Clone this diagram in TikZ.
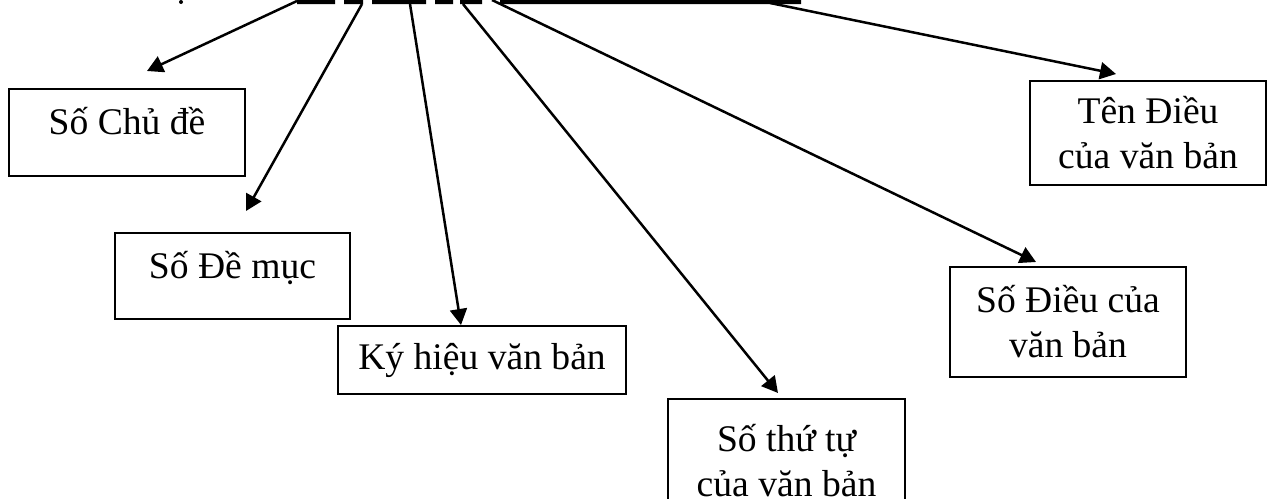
\documentclass[tikz,border=0pt]{standalone}
\usepackage{fontspec}
\setmainfont{Liberation Serif}
\usetikzlibrary{arrows.meta}
\tikzset{
	khung/.style={draw, line width=0.9pt, inner sep=0pt, align=center, font=\fontsize{18.8}{22.5}\selectfont},
	muiten/.style={-{Triangle[length=8pt,width=8.5pt]}, line width=1.25pt},
}

\begin{document}
\begin{tikzpicture}[x=0.5pt,y=-0.5pt]
		\useasboundingbox (0,0) rectangle (1273,498);
		% phan duoi cua dong tieu de bi cat
		\fill
		(297,0) rectangle (335,4)
		(344,0) rectangle (363,4)
		(372,0) rectangle (426,4)
		(435,0) rectangle (453,4)
		(460,0) rectangle (482,4)
		(500,0) rectangle (801,4)
		(181,2) circle [radius=2];
		\coordinate (g1) at (297,1);
		\coordinate (g2) at (362,4);
		\coordinate (g3) at (410,4);
		\coordinate (g4) at (463,4);
		\coordinate (g5) at (492,0);
		\coordinate (g6) at (770,3);
		\coordinate (d1) at (147,71);
		\coordinate (d2) at (246,211);
		\coordinate (d3) at (461,325);
		\coordinate (d4) at (778,393);
		\coordinate (d5) at (1036,262);
		\coordinate (d6) at (1116,74);
		% cac o
		\node [khung, minimum width=118pt, text height=22.5pt, text depth=21pt] (chude) at (127,132.5) {Số Chủ đề};
		\node [khung, minimum width=117.5pt, text height=22.5pt, text depth=20.5pt] (demuc) at (232.5,276) {Số Đề mục};
		\node [khung, minimum width=144pt, minimum height=34pt] (kyhieu) at (482,360) {Ký hiệu văn bản};
		\node [khung, minimum width=118.5pt, minimum height=62pt] (thutu) at (786.5,461) {Số thứ tự\\của văn bản};
		\node [khung, minimum width=118pt, minimum height=55pt] (sodieu) at (1068,322) {Số Điều của\\văn bản};
		\node [khung, minimum width=118pt, minimum height=52pt] (tendieu) at (1148,133) {Tên Điều\\của văn bản};
		% mui ten
		\draw [muiten] (g1) -- (d1);
		\draw [muiten] (g2) -- (d2);
		\draw [muiten] (g3) -- (d3);
		\draw [muiten] (g4) -- (d4);
		\draw [muiten] (g5) -- (d5);
		\draw [muiten] (g6) -- (d6);
	\end{tikzpicture}
\end{document}
